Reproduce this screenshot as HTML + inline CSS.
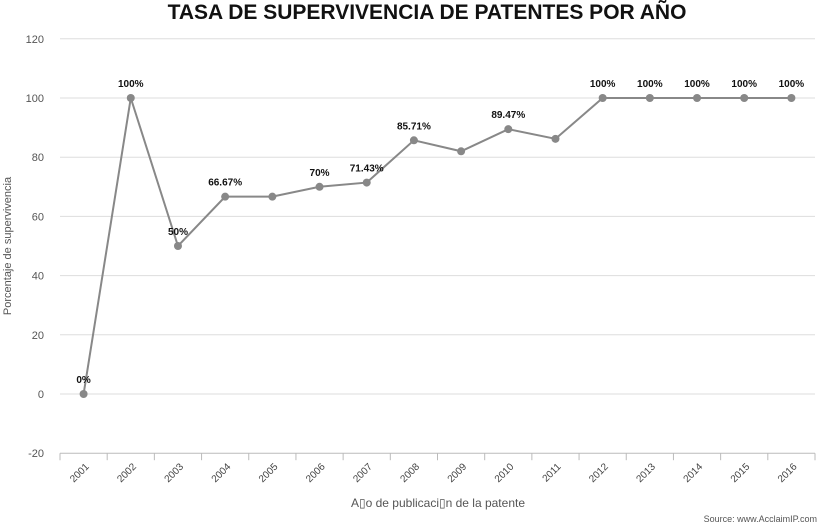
<!DOCTYPE html>
<html><head><meta charset="utf-8"><style>
body{margin:0;background:#fff;font-family:"Liberation Sans",sans-serif}
svg text{font-family:"Liberation Sans",sans-serif}
</style></head><body>
<svg id="c" width="820" height="525">
<text x="427" y="19" text-anchor="middle" font-size="21" font-weight="bold" fill="#111">TASA DE SUPERVIVENCIA DE PATENTES POR AÑO</text>
<text transform="translate(11,246) rotate(-90)" text-anchor="middle" font-size="11" fill="#555">Porcentaje de supervivencia</text>
<text x="438" y="507" text-anchor="middle" font-size="12" fill="#555">A▯o de publicaci▯n de la patente</text>
<text x="817" y="522" text-anchor="end" font-size="9" fill="#555">Source: www.AcclaimIP.com</text>
<g id="g"></g>
</svg>
<script>
const categories=["2001","2002","2003","2004","2005","2006","2007","2008","2009","2010","2011","2012","2013","2014","2015","2016"];
const values=[0,100,50,66.67,66.67,70,71.43,85.71,82,89.47,86.2,100,100,100,100,100];
const pointLabels=["0%","100%","50%","66.67%","","70%","71.43%","85.71%","","89.47%","","100%","100%","100%","100%","100%"];
const yTicks=[-20,0,20,40,60,80,100,120];
const NS="http://www.w3.org/2000/svg",g=document.getElementById('g');
const L=60,R=815,step=(R-L)/categories.length;
const x=i=>L+step*(i+0.5);
const y=v=>394-(v)*(394-98)/100;
function el(t,a,txt){const e=document.createElementNS(NS,t);for(const k in a)e.setAttribute(k,a[k]);if(txt!==undefined)e.textContent=txt;g.appendChild(e);return e;}
yTicks.forEach(t=>{
const l=el('line',{x1:L,x2:R,y1:y(t),y2:y(t),stroke:t==-20?'#bbb':'#ddd','stroke-width':1});


const tx=el('text',{x:44,y:y(t)+4,'text-anchor':'end','font-size':11,fill:'#555'},String(t));


});
for(let i=0;i<=categories.length;i++){
const t=el('line',{x1:L+step*i,x2:L+step*i,y1:y(-20),y2:y(-20)+7,stroke:'#bbb'});


}
categories.forEach((c,i)=>{
const t=el('text',{x:0,y:0,'text-anchor':'end','font-size':10,fill:'#444',transform:`translate(${x(i)+6},${y(-20)+14}) rotate(-45)`},c);


});
const line=el('polyline',{points:values.map((v,i)=>x(i)+','+y(v)).join(' '),fill:'none',stroke:'#888','stroke-width':2});


values.forEach((v,i)=>{
const p=el('circle',{cx:x(i),cy:y(v),r:4,fill:'#888'});


if(pointLabels[i]){
const t=el('text',{x:x(i),y:y(v)-11,'text-anchor':'middle','font-size':10,'font-weight':'bold',fill:'#111'},pointLabels[i]);


}
});
</script>
</body></html>
